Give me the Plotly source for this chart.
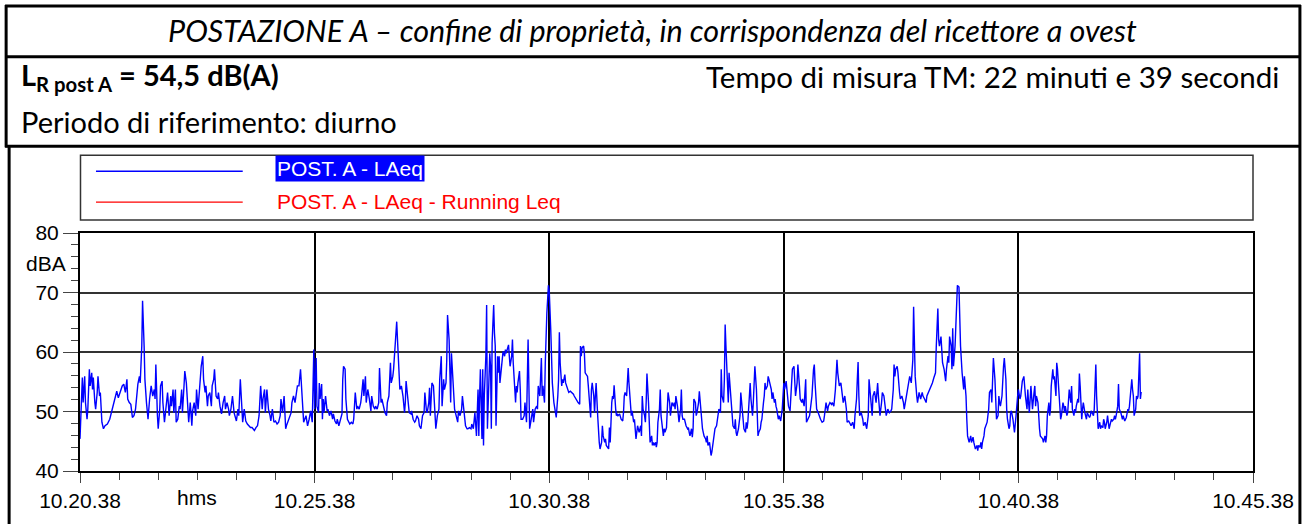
import datetime as dt
import plotly.graph_objects as go

# ---------------- data (seconds from 10:20:38, LAeq dB(A)) ----------------
seconds = [
    0,3,4,6,7,9,10,12,13,15,16,17,19,20,22,23,25,26,28,30,
    32,35,38,41,43,45,47,49,51,54,56,58,60,61,63,65,67,69,71,74,
    76,77,79,80,82,83,85,87,89,91,93,95,96,97,99,100,102,103,105,106,
    108,109,111,112,114,116,117,119,120,122,123,125,127,128,130,131,133,134,136,137,
    139,141,143,144,146,148,149,151,152,154,155,157,158,160,161,163,164,166,168,169,
    171,172,174,176,177,179,181,183,185,186,188,190,191,193,195,197,198,200,202,203,
    205,207,208,210,212,214,216,218,220,223,225,227,229,230,231,233,234,236,237,239,
    241,243,244,246,248,250,252,254,256,257,259,261,263,264,266,268,270,271,273,275,277,278,
    280,282,284,286,289,291,293,295,297,299,300,302,303,305,306,307,309,310,311,312,
    314,316,317,319,321,323,324,326,328,329,331,333,335,336,337,339,340,342,343,345,
    347,349,350,352,354,355,357,359,360,362,363,365,366,368,370,372,373,375,377,378,
    380,382,383,385,386,388,390,392,393,395,397,398,400,401,403,405,406,408,409,411,
    413,415,416,417,419,421,423,424,426,428,429,431,433,434,436,438,440,441,443,444,
    446,447,448,450,452,454,455,457,459,460,462,463,465,466,468,469,470,472,473,474,
    475,477,478,479,481,483,484,486,488,489,491,493,495,496,498,500,501,503,505,506,
    507,509,510,511,512,514,515,516,517,519,520,521,523,524,525,526,527,529,530,531,
    532,534,535,536,537,539,540,541,543,544,545,546,548,549,550,552,553,554,555,557,
    558,559,560,562,563,564,566,568,569,571,573,574,575,577,579,580,582,584,585,
    586,588,590,591,592,594,595,596,597,599,600,602,603,604,606,608,609,611,612,613,
    614,616,617,618,620,621,622,624,625,627,629,631,632,634,636,637,639,640,641,642,
    644,645,646,648,649,650,651,653,654,655,657,658,659,660,662,663,664,665,667,668,
    669,671,672,673,674,676,677,678,680,681,682,683,685,686,687,688,690,692,694,695,
    696,697,699,700,701,702,704,705,706,708,709,710,711,713,714,715,717,718,719,720,
    722,723,724,725,727,728,729,731,732,733,734,736,737,738,739,741,742,743,745,746,
    747,748,750,751,752,754,755,756,757,759,760,761,762,764,765,766,768,769,770,771,
    773,774,775,777,778,779,780,782,783,784,785,787,788,789,791,792,793,794,796,797,
    798,800,801,802,803,805,806,807,808,810,811,812,814,815,816,817,819,820,821,823,
    824,825,826,828,829,830,831,833,834,835,837,838,839,840,842,843,844,845,847,848,
    849,851,852,853,854,856,857,858,860,861,862,863,865,866,867,868,870,871,872,874,
    875,876,877,879,880,881,882,884,885,886,888,889,890,891,893,
    894,896,898,900,901,903,905,906,908,910,911,913,915,917,918,920,921,923,924,926,
    928,929,931,933,934,936,938,939,940,942,944,945,947,949,951,952,954,956,957,959,
    961,962,964,966,968,969,971,973,974,976,978,980,981,983,985,986,988,990,991,993,
    994,995,996,997,999,1001,1002,1004,1006,1008,1009,1011,1013,1014,1016,1018,1020,1021,1023,1025,
    1026,1028,1030,1031,1033,1035,1037,1038,1040,1041,1042,1043,1045,1046,1048,1049,1051,1053,1054,1056,
    1058,1059,1061,1063,1065,1066,1067,1068,1070,1071,1073,1075,1077,1078,1080,1082,1083,1085,1087,1088,
    1090,1092,1094,1095,1097,1098,1099,1101,1102,1103,1105,1106,1107,1108,1110,1111,1112,1114,1115,1116,
    1117,1119,1120,1121,1122,1124,1125,1126,1128,1129,1130,1131,1133,1134,1135,1137,1138,1139,1140,1142,
    1143,1144,1145,1147,1148,1149,1151,1152,1153,1154,1156,1157,1158,1160,1161,1162,1163,1165,1166,1167,
    1168,1170,1171,1172,1174,1175,1176,1177,1179,1180,1181,1182,1184,1185,1186,1188,1189,1190,1191,1193,
    1194,1195,1197,1198,1199,1200,1202,1203,1204,1205,1207,1208,1209,1211,1212,1213,1214,1216,1217,1218,
    1220,1221,1222,1223,1225,1226,1227,1228,1230,1231,1232,1234,1235,1236,1237,1239,1240,1241,1242,1244,
    1245,1246,1248,1249,1250,1251,1253,1254,1255,1257,1258,1259,1260,1262,1263,1264,1265,1267,1268,1269,
    1271,1272,1273,1274,1276,1277,1278,1279,1281,1282,1283,1285,1286,1287,1288,1290,1291,1292,1293,1295,
    1296,1297,1299,1300,1301,1302,1304,1305,1306,1308,1309,1310,1311,1313,1314,1315,1316,1318,1319,1320,
    1322,1323,1324,1325,1327,1328,1329,1331,1332,1333,1334,1336,1337,1338,1340,1341,1342,1343,1345,1346,
    1347,1348,1350,1351,1352,1353,1355,1356,1357,
]

laeq = [
    45.4,55.7,51.5,55.9,51.5,48.7,50.4,57.1,54.3,56.5,53.7,55.7,51.5,50.4,53.2,55.9,52.6,53.2,48.2,47.1,
    47.6,47.9,48.7,50.4,51.5,52.6,53.4,52.3,53.2,54.3,54.6,53.2,55.4,52.1,51.5,51.2,49.0,49.3,50.4,54.6,
    55.9,54.8,61.0,68.6,61.0,55.4,51.5,48.7,52.1,54.3,52.6,53.7,52.1,57.9,49.3,47.1,50.4,54.3,55.1,51.5,
    48.2,49.3,51.5,53.2,49.3,52.6,50.9,53.7,49.8,53.7,48.2,48.7,50.9,50.4,53.7,49.8,54.3,56.8,54.8,52.1,
    48.2,51.5,47.6,50.1,51.5,49.3,53.7,50.4,52.6,56.5,57.6,59.3,55.4,53.2,54.3,50.9,52.6,53.2,50.9,54.3,
    55.4,57.1,52.6,52.1,53.2,50.9,49.6,51.5,52.6,50.4,51.5,50.4,49.3,50.4,52.6,49.8,49.3,48.4,50.4,49.3,
    55.4,50.9,48.2,50.4,48.4,47.9,47.6,47.3,47.3,46.8,47.3,47.6,49.3,52.1,54.3,50.4,52.1,53.7,49.8,53.7,
    50.4,49.3,48.4,50.4,48.2,48.4,47.9,48.2,49.3,52.1,49.8,52.6,47.1,47.6,48.4,49.3,49.8,51.5,52.6,51.5,53.7,54.3,
    54.3,57.1,52.6,48.2,49.3,47.6,48.7,50.1,48.2,60.4,50.4,59.0,50.9,49.8,54.8,52.1,54.6,48.7,52.1,49.8,
    52.6,50.1,50.4,49.3,50.1,48.7,49.6,48.4,47.9,48.7,47.6,48.7,49.6,55.4,57.6,57.1,52.1,48.7,48.4,47.9,
    48.2,47.9,48.7,53.2,50.4,50.9,50.4,51.5,52.6,55.4,52.6,55.9,51.5,53.7,52.1,50.1,52.6,50.9,50.4,50.9,
    50.4,51.5,57.3,51.5,52.1,50.9,49.8,49.3,51.5,52.6,58.2,54.8,55.9,57.1,61.0,65.1,62.1,55.9,53.7,54.3,
    52.6,49.8,51.5,55.1,52.6,49.8,49.6,50.1,48.7,48.2,48.4,49.3,48.7,47.6,47.1,49.3,49.8,53.2,50.1,49.8,
    51.5,54.0,49.3,54.8,54.3,48.2,47.1,49.3,50.4,55.4,59.3,50.9,55.4,53.7,54.8,58.7,66.2,62.1,55.4,51.5,
    59.8,54.3,51.5,50.4,49.3,48.2,50.1,49.3,50.4,52.6,50.1,47.6,47.1,47.1,47.3,47.1,47.9,47.1,49.8,48.2,
    45.9,53.7,45.9,52.6,57.1,45.4,57.1,44.3,52.6,59.3,67.9,47.1,55.4,59.8,57.6,47.1,61.5,67.9,63.2,61.0,
    47.6,59.3,56.5,59.3,54.8,57.1,58.7,60.1,59.3,60.4,59.8,60.4,61.2,59.3,57.6,59.3,62.1,58.2,55.4,51.5,
    54.3,53.2,54.8,56.8,53.7,48.7,48.7,49.3,51.5,48.2,62.1,54.8,47.1,48.7,50.4,48.2,50.4,50.9,50.4,
    54.3,52.6,59.0,52.6,54.3,51.5,58.2,63.7,66.5,71.2,70.4,63.7,58.2,54.8,51.5,50.1,49.0,52.6,55.4,63.3,
    58.2,54.3,55.4,54.8,56.2,54.8,54.3,53.7,53.2,53.4,53.2,52.9,52.6,52.1,51.8,51.5,51.2,61.0,59.3,60.7,
    61.0,59.8,56.5,56.2,55.9,54.3,52.6,49.0,53.7,54.8,52.6,49.8,52.6,54.8,49.3,45.9,44.8,43.7,44.8,47.6,
    45.9,44.8,45.4,44.3,44.0,43.7,47.3,44.8,51.5,52.6,52.1,54.4,50.4,49.3,49.6,49.3,49.6,48.7,48.4,49.8,
    52.6,53.2,52.6,55.1,57.3,54.8,50.4,49.3,50.1,48.2,48.7,46.5,45.4,47.6,47.1,46.5,47.6,45.9,52.6,50.4,
    49.3,48.2,51.5,56.4,51.5,47.1,44.8,45.9,44.3,44.8,44.3,44.8,44.0,44.8,48.2,50.4,53.7,49.3,47.1,45.9,
    47.1,46.5,47.3,49.3,53.2,51.5,49.3,50.4,51.5,50.9,51.5,50.4,52.6,50.9,49.3,48.2,50.4,53.7,49.3,48.7,
    48.7,48.2,47.6,47.1,47.3,46.5,45.9,47.1,45.7,47.1,52.1,51.5,49.3,49.8,51.5,53.4,51.5,49.3,47.1,46.5,
    45.9,45.4,44.8,45.9,44.3,44.8,43.7,42.6,43.2,44.8,45.9,47.1,47.6,48.4,49.3,50.4,49.8,57.1,52.6,51.5,
    55.4,64.6,61.0,55.9,51.5,56.5,54.8,51.5,49.3,47.6,47.1,48.7,46.5,45.9,47.1,48.2,49.3,53.2,49.8,48.2,
    47.1,46.5,48.2,47.1,48.2,52.6,54.8,52.1,49.3,51.5,53.7,57.6,53.7,48.2,45.9,46.5,47.1,48.2,48.7,51.5,
    52.6,54.8,53.7,54.3,55.9,55.4,54.8,53.7,52.1,53.2,51.5,52.1,50.9,50.4,48.7,
    49.3,48.4,50.4,54.8,53.7,55.1,52.6,50.9,50.1,55.9,57.1,57.6,52.6,54.8,57.9,54.3,52.1,51.5,52.1,50.9,
    55.4,48.2,48.7,49.3,50.4,52.6,57.1,57.9,54.8,50.4,49.8,49.3,48.7,48.2,48.4,49.3,51.5,50.1,50.9,51.5,
    51.2,51.5,50.9,53.7,58.7,56.5,54.3,54.8,53.7,51.5,52.6,50.4,48.2,48.4,47.9,47.6,48.2,47.1,49.3,52.1,
    55.4,58.3,52.6,49.3,49.8,48.7,47.6,48.2,47.1,49.3,55.4,51.5,49.3,52.6,53.4,51.5,54.8,52.6,49.3,51.5,
    53.2,52.6,50.9,49.3,50.4,49.8,50.1,50.4,53.7,57.9,55.9,57.1,57.6,56.5,53.2,52.1,52.6,51.5,50.4,52.1,
    53.7,54.3,55.9,54.8,58.7,67.6,62.6,55.9,52.6,51.5,53.2,52.1,53.2,52.6,52.1,51.5,52.6,53.2,53.7,54.3,
    54.8,55.7,56.5,61.0,67.3,62.1,61.0,62.6,58.7,58.2,57.1,55.9,55.1,57.1,59.3,58.2,62.6,61.0,57.1,64.0,
    57.6,61.0,65.9,69.3,71.2,70.9,64.8,61.0,56.5,54.8,53.7,55.9,52.6,48.7,45.9,44.8,45.4,45.9,44.8,45.7,
    44.8,44.3,43.7,44.3,43.4,44.3,44.0,44.8,43.7,44.8,45.9,47.1,47.6,48.2,49.3,50.4,53.2,53.7,51.5,57.6,
    59.0,55.4,51.5,48.7,49.3,52.6,51.5,50.9,52.6,55.9,57.6,59.0,55.4,50.4,48.7,47.1,47.6,49.8,50.1,48.7,
    47.1,46.5,49.3,51.5,52.6,53.7,52.1,52.6,54.3,55.1,55.9,53.7,52.6,50.4,53.7,51.5,49.8,54.3,50.9,50.4,
    53.2,54.3,50.9,52.6,51.5,48.2,47.1,45.9,45.4,45.4,44.8,45.9,44.8,45.9,49.3,51.5,49.3,50.4,54.3,57.1,
    55.4,55.9,52.6,58.2,57.1,54.8,51.5,48.7,49.3,51.5,50.9,49.8,50.9,49.3,49.8,52.6,53.7,51.5,54.3,50.4,
    49.3,50.4,49.8,50.9,52.1,51.5,56.4,54.3,48.7,50.4,51.5,49.8,49.3,48.7,49.8,49.3,49.0,49.3,50.1,49.6,
    49.3,50.4,57.9,52.6,49.3,47.1,48.2,47.1,47.6,47.3,48.7,48.2,47.1,48.2,49.3,47.6,47.1,48.2,48.7,48.4,
    48.7,49.3,48.7,49.3,50.9,54.6,50.4,49.8,49.3,48.7,49.3,48.4,48.7,49.0,50.4,50.1,50.9,52.1,55.4,53.7,
    52.6,49.3,50.4,52.6,52.1,52.6,59.8,52.1,53.3,
]

assert len(seconds) == len(laeq), (len(seconds), len(laeq))

start_time = dt.datetime(2000, 1, 1, 10, 20, 38)
end_time = dt.datetime(2000, 1, 1, 10, 45, 38)
x_times = [start_time + dt.timedelta(seconds=s) for s in seconds]

title_text = "<i>POSTAZIONE A – confine di proprietà, in corrispondenza del ricettore a ovest</i>"
level_text = "<b>L<sub>R post A</sub> = 54,5 dB(A)</b>"
time_text = "Tempo di misura TM: 22 minuti e 39 secondi"
period_text = "Periodo di riferimento: diurno"
legend_labels = ["POST. A - LAeq", "POST. A - LAeq - Running Leq"]
y_unit = "dBA"
x_unit = "hms"

# ---------------- layout geometry (pixels) ----------------
W, H = 1306, 524
PL, PR, PT, PB = 80, 1255, 233, 472


def px(x):
    return (x - PL) / (PR - PL)


def py(y):
    return (PB - y) / (PB - PT)


CHART_FONT = "Liberation Sans, Arial, sans-serif"
HEAD_FONT = "Lato, Carlito, Calibri, sans-serif"
CHART_SIZE = 21

fig = go.Figure()
fig.add_trace(go.Scatter(
    x=x_times, y=laeq, mode="lines",
    line=dict(color="#0000ff", width=1.4),
    name=legend_labels[0], showlegend=False, hoverinfo="skip",
))

shapes = []
frame = dict(type="line", xref="paper", yref="paper", line=dict(color="black", width=3))
# outer frame and table rows
shapes.append({**frame, "x0": px(6), "x1": px(6), "y0": py(4), "y1": py(147)})
shapes.append({**frame, "x0": px(9), "x1": px(9), "y0": py(145), "y1": py(530)})
shapes.append({**frame, "x0": px(1302), "x1": px(1302), "y0": py(4), "y1": py(530)})
shapes.append({**frame, "x0": px(5), "x1": px(1303), "y0": py(5), "y1": py(5)})
shapes.append({**frame, "x0": px(5), "x1": px(1303), "y0": py(56), "y1": py(56)})
shapes.append({**frame, "x0": px(5), "x1": px(1303), "y0": py(146), "y1": py(146)})
# legend box
shapes.append(dict(type="rect", xref="paper", yref="paper",
                   x0=px(80.5), x1=px(1255), y0=py(155), y1=py(220),
                   line=dict(color="#333333", width=1.5), fillcolor="white"))
shapes.append(dict(type="line", xref="paper", yref="paper",
                   x0=px(96), x1=px(243), y0=py(171), y1=py(171),
                   line=dict(color="#0000ff", width=1.3)))
shapes.append(dict(type="line", xref="paper", yref="paper",
                   x0=px(96), x1=px(243), y0=py(202), y1=py(202),
                   line=dict(color="#ff0000", width=1.3)))

annotations = [
    dict(text=title_text, x=px(653), y=py(29), xref="paper", yref="paper",
         showarrow=False, xanchor="center", yanchor="middle",
         font=dict(family=HEAD_FONT, size=30.5, color="black")),
    dict(text=level_text, x=px(19), y=py(76), xref="paper", yref="paper",
         showarrow=False, xanchor="left", yanchor="middle",
         font=dict(family=HEAD_FONT, size=29, color="black")),
    dict(text=time_text, x=px(1283), y=py(76), xref="paper", yref="paper",
         showarrow=False, xanchor="right", yanchor="middle",
         font=dict(family=HEAD_FONT, size=29.5, color="black")),
    dict(text=period_text, x=px(19), y=py(121), xref="paper", yref="paper",
         showarrow=False, xanchor="left", yanchor="middle",
         font=dict(family=HEAD_FONT, size=29, color="black")),
    dict(text=legend_labels[0], x=px(275), y=py(168), xref="paper", yref="paper",
         showarrow=False, xanchor="left", yanchor="middle", bgcolor="#0000ff",
         borderpad=1, font=dict(family=CHART_FONT, size=CHART_SIZE, color="white")),
    dict(text=legend_labels[1], x=px(275), y=py(201), xref="paper", yref="paper",
         showarrow=False, xanchor="left", yanchor="middle",
         font=dict(family=CHART_FONT, size=CHART_SIZE, color="#ff0000")),
    dict(text=y_unit, x=px(68), y=py(264), xref="paper", yref="paper",
         showarrow=False, xanchor="right", yanchor="middle",
         font=dict(family=CHART_FONT, size=CHART_SIZE, color="black")),
    dict(text=x_unit, x=start_time + dt.timedelta(seconds=150), y=py(499),
         xref="x", yref="paper", showarrow=False, xanchor="center", yanchor="middle",
         font=dict(family=CHART_FONT, size=CHART_SIZE, color="black")),
]

fig.update_layout(
    width=W, height=H,
    margin=dict(l=PL, r=W - PR, t=PT, b=H - PB, pad=0),
    paper_bgcolor="white", plot_bgcolor="white",
    shapes=shapes, annotations=annotations,
    showlegend=False,
)

fig.update_xaxes(
    type="date", range=[start_time, end_time],
    tick0=start_time, dtick=300000, tickformat="%H.%M.%S",
    ticks="outside", ticklen=10, tickwidth=1, tickcolor="#444",
    showgrid=True, gridcolor="black", gridwidth=1.5,
    showline=True, linecolor="black", linewidth=2, mirror=True,
    zeroline=False,
    tickfont=dict(family=CHART_FONT, size=CHART_SIZE, color="black"),
    minor=dict(dtick=50000, tick0=start_time, ticks="outside", ticklen=7,
               tickwidth=1, tickcolor="#444", showgrid=False),
)
fig.update_yaxes(
    range=[40, 80], tick0=40, dtick=10,
    ticks="outside", ticklen=15, tickwidth=1, tickcolor="#444",
    showgrid=True, gridcolor="#333", gridwidth=1.5,
    showline=True, linecolor="black", linewidth=2, mirror=True,
    zeroline=False,
    tickfont=dict(family=CHART_FONT, size=CHART_SIZE, color="black"),
    minor=dict(dtick=2, ticks="outside", ticklen=7, tickwidth=1,
               tickcolor="#444", showgrid=False),
)

fig.write_html(
    "out.html",
    config={"displayModeBar": False},
    post_script="document.body.style.margin='0';document.body.style.overflow='hidden';",
)
